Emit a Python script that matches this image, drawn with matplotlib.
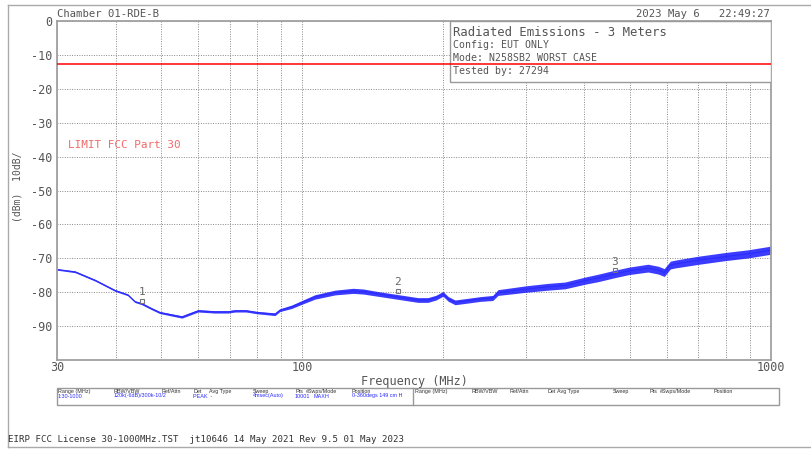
import matplotlib
matplotlib.use("Agg")
import matplotlib.pyplot as plt
from matplotlib.patches import Rectangle
from matplotlib.lines import Line2D
import numpy as np

# ---------------- data ----------------
freq_mhz = [30, 32.8, 36.2, 39.9, 42.5, 44.0, 45.5, 47.8, 49.7, 55.4, 60, 65,
            69.5, 72, 75.9, 80, 87.5, 89.7, 95, 99.9, 106.5, 117.5, 128.4, 135,
            145, 160, 176.6, 185.5, 193, 199.7, 205, 211.9, 225.8, 240, 255,
            261.7, 280, 298.7, 334.5, 363.6, 401, 427.6, 464.8, 498, 546.7,
            575, 592, 610, 624, 698.7, 797.7, 893, 1000]
level_dbm = [-73.3, -74.0, -76.5, -79.5, -80.8, -82.8, -83.4, -84.9, -86.0, -87.3,
             -85.5, -85.8, -85.8, -85.5, -85.5, -86.0, -86.5, -85.3, -84.3, -83.0,
             -81.4, -80.1, -79.6, -79.8, -80.5, -81.4, -82.3, -82.3, -81.6, -80.5,
             -82.0, -83.0, -82.5, -82.0, -81.7, -80.1, -79.6, -79.1, -78.4, -78.0,
             -76.6, -75.8, -74.6, -73.7, -72.9, -73.5, -74.2, -72.0, -71.7, -70.6,
             -69.5, -68.7, -67.6]
spread_db = [0.2, 0.25, 0.25, 0.25, 0.25, 0.25, 0.3, 0.3, 0.3, 0.35, 0.35, 0.35,
             0.35, 0.35, 0.35, 0.35, 0.4, 0.4, 0.5, 0.55, 0.65, 0.7, 0.75, 0.75,
             0.7, 0.7, 0.7, 0.7, 0.7, 0.7, 0.7, 0.7, 0.7, 0.7, 0.75,
             0.85, 0.9, 0.95, 1.0, 1.0, 1.05, 1.1, 1.1, 1.1, 1.15,
             1.15, 1.15, 1.15, 1.15, 1.2, 1.2, 1.2, 1.2]
limit_dbm = -12.8
marker_ids = ["1", "2", "3"]
marker_freq = [45.5, 160, 465]
marker_level = [-82.5, -79.6, -73.5]

ytick_vals = [0, -10, -20, -30, -40, -50, -60, -70, -80, -90]
xgrid_vals = [30, 40, 50, 60, 70, 80, 90, 100, 200, 300, 400, 500, 600, 700, 800, 900, 1000]
xlabel_vals = {30: "30", 100: "100", 1000: "1000"}

table_headers = ["Range (MHz)", "RBW/VBW", "Ref/Attn", "Det", "Avg Type", "Sweep",
                 "Pts", "#Swps/Mode", "Position"]
table_values = ["1:30-1000", "120k(-6dB)/300k-10/2", "", "PEAK  -", "", "4msec(Auto)",
                "10001", "MAXH", "0-360degs 149 cm H"]

# ---------------- figure ----------------
W, H = 811, 450
fig = plt.figure(figsize=(W / 100, H / 100), dpi=100)
fig.patch.set_facecolor("white")
MONO = ["DejaVu Sans Mono"]
GRAY = "#555555"

def px(x, y):
    return x / W, 1 - y / H

ax_l, ax_r, ax_t, ax_b = 57, 771, 21, 360
ax = fig.add_axes([ax_l / W, 1 - ax_b / H, (ax_r - ax_l) / W, (ax_b - ax_t) / H])
ax.set_xscale("log")
ax.set_xlim(30, 1000)
ax.set_ylim(-100, 0)

ax.set_xticks(xgrid_vals)
ax.set_xticklabels([xlabel_vals.get(v, "") for v in xgrid_vals], family=MONO,
                   fontsize=8.5, color=GRAY)
ax.xaxis.set_minor_locator(matplotlib.ticker.NullLocator())
ax.set_yticks(ytick_vals)
ax.set_yticklabels([str(v) for v in ytick_vals], family=MONO, fontsize=8.5, color=GRAY)
ax.tick_params(length=0, pad=3)
ax.tick_params(axis="x", pad=1)
ax.grid(True, which="major", color="#888888", linestyle=(0, (1, 1.5)), linewidth=0.7)
for s in ax.spines.values():
    s.set_color("#a0a0a0")
    s.set_linewidth(1.3)

f = np.array(freq_mhz)
lv = np.array(level_dbm)
sp = np.array(spread_db)
ax.fill_between(f, lv - sp, lv + sp, color="#1a1aff", alpha=0.85, linewidth=0, zorder=2)
ax.plot(f, lv, color="#2b2bff", linewidth=0.8, zorder=2)

# markers
ax.plot(marker_freq, marker_level, linestyle="none", marker="s", markersize=3.5,
        markerfacecolor="none", markeredgecolor="#777777", markeredgewidth=0.8, zorder=3)
for mid, mf, ml in zip(marker_ids, marker_freq, marker_level):
    ax.annotate(mid, (mf, ml), xytext=(0, 2.5), textcoords="offset points",
                ha="center", va="bottom", family=MONO, fontsize=8, color="#666666", zorder=3)

# info box
bx0 = (450 - ax_l) / (ax_r - ax_l)
by0 = 1 - (82 - ax_t) / (ax_b - ax_t)
ax.add_patch(Rectangle((bx0, by0), 1 - bx0, 1 - by0, transform=ax.transAxes,
                       facecolor="white", edgecolor="#999999", linewidth=1.0, zorder=3))
ax.axhline(limit_dbm, color="red", linewidth=1.1, zorder=4)

ax.text(*((68 - ax_l) / (ax_r - ax_l), 1 - (145 - ax_t) / (ax_b - ax_t)),
        "LIMIT FCC Part 30", transform=ax.transAxes, family=MONO, fontsize=7.9,
        color="#f06a6a", va="center", ha="left")

# texts in box
fig.text(*px(453, 32), "Radiated Emissions - 3 Meters", family=MONO, fontsize=8.8,
         color=GRAY, va="center", ha="left", zorder=5)
fig.text(*px(453, 45), "Config: EUT ONLY", family=MONO, fontsize=7.1, color=GRAY,
         va="center", ha="left", zorder=5)
fig.text(*px(453, 58), "Mode: N258SB2 WORST CASE", family=MONO, fontsize=7.1, color=GRAY,
         va="center", ha="left", zorder=5)
fig.text(*px(453, 71), "Tested by: 27294", family=MONO, fontsize=7.1, color=GRAY,
         va="center", ha="left", zorder=5)

# header texts
fig.text(*px(57, 14), "Chamber 01-RDE-B", family=MONO, fontsize=7.6, color=GRAY,
         va="center", ha="left")
fig.text(*px(770, 14), "2023 May 6   22:49:27", family=MONO, fontsize=7.6, color=GRAY,
         va="center", ha="right")

# y label
fig.text(*px(18, 187), "(dBm)  10dB/", family=MONO, fontsize=7, color=GRAY,
         rotation=90, va="center", ha="center")

# x label
fig.text(*px(414, 381), "Frequency (MHz)", family=MONO, fontsize=8.5, color=GRAY,
         va="center", ha="center")

# table
tx0, tx1, tdiv, ty0, ty1 = 57, 779, 413, 388, 405
fig.add_artist(Rectangle(px(tx0, ty1), (tx1 - tx0) / W, (ty1 - ty0) / H,
                         transform=fig.transFigure, facecolor="none",
                         edgecolor="#999999", linewidth=1.0))
fig.add_artist(Line2D([tdiv / W, tdiv / W], [1 - ty0 / H, 1 - ty1 / H],
                      transform=fig.transFigure, color="#999999", linewidth=1.0))
TF = ["Liberation Sans", "DejaVu Sans"]
left_cols = [58, 114, 161, 193, 209, 253, 295, 306, 352]
val_cols = [58, 114, 161, 193, 209, 253, 295, 313, 352]
right_cols = [415, 472, 510, 547, 557, 613, 650, 660, 713]
for hdr, xl, xr in zip(table_headers, left_cols, right_cols):
    fig.text(*px(xl, 391.5), hdr, family=TF, fontsize=3.9, color="#333333",
             va="center", ha="left")
    fig.text(*px(xr, 391.5), hdr, family=TF, fontsize=3.9, color="#333333",
             va="center", ha="left")
for val, xl in zip(table_values, val_cols):
    if val:
        fig.text(*px(xl, 396), val, family=TF, fontsize=3.9, color="#2a2aff",
                 va="center", ha="left")

# footer
fig.text(*px(8, 440), "EIRP FCC License 30-1000MHz.TST  jt10646 14 May 2021 Rev 9.5 01 May 2023",
         family=MONO, fontsize=6.6, color="#333333", va="center", ha="left")

# outer frame
for xs, ys in [((8, 8), (5, 447)), ((8, 811), (5, 5)), ((8, 811), (447, 447))]:
    fig.add_artist(Line2D([x / W for x in xs], [1 - y / H for y in ys],
                          transform=fig.transFigure, color="#aaaaaa", linewidth=1.0))

fig.savefig("out.png", dpi=100, facecolor="white")
